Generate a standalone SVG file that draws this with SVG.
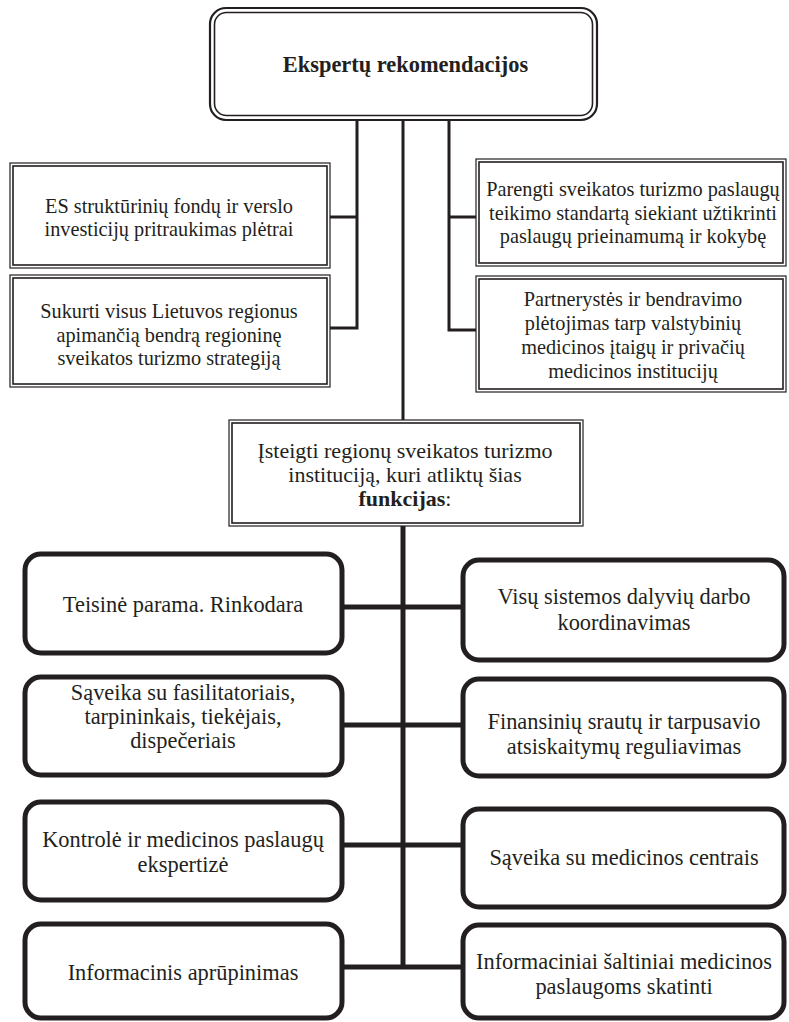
<svg xmlns="http://www.w3.org/2000/svg" width="789" height="1022" viewBox="0 0 789 1022">
  <style>
    text { font-family: "Liberation Serif", "Times New Roman", serif; font-size: 20.3px; fill: #231f20; text-anchor: middle; }
    .title { font-weight: bold; font-size: 22.4px; }
    .mid { font-size: 22px; }
    .fn { font-size: 22.4px; }
    .b { font-weight: bold; }
    .outer { fill: #fff; stroke: #231f20; stroke-width: 1.2; }
    .inner { fill: none; stroke: #231f20; stroke-width: 1.6; }
    .round { fill: #fff; stroke: #231f20; stroke-width: 5; }
    .thin { stroke: #231f20; stroke-width: 3; fill: none; }
    .thick { stroke: #231f20; stroke-width: 5; fill: none; }
  </style>

  <!-- connectors -->
  <g id="connectors">
    <line class="thin" x1="403" y1="118" x2="403" y2="421"/>
    <polyline class="thin" points="357,118 357,328 330,328"/>
    <line class="thin" x1="357" y1="217" x2="330" y2="217"/>
    <polyline class="thin" points="449,118 449,330 476,330"/>
    <line class="thin" x1="449" y1="217" x2="476" y2="217"/>
    <line class="thick" x1="403" y1="525" x2="403" y2="969"/>
    <line class="thick" x1="342" y1="607" x2="462" y2="607"/>
    <line class="thick" x1="342" y1="725" x2="462" y2="725"/>
    <line class="thick" x1="342" y1="845" x2="462" y2="845"/>
    <line class="thick" x1="342" y1="967" x2="462" y2="967"/>
  </g>

  <!-- header -->
  <g id="n-top">
    <rect x="210" y="8" width="387" height="112" rx="16" fill="#fff" stroke="#231f20" stroke-width="2.2"/>
    <rect x="214.5" y="12.5" width="378" height="103" rx="12" fill="none" stroke="#231f20" stroke-width="1.6"/>
    <text class="title" x="405.5" y="72">Ekspertų rekomendacijos</text>
  </g>

  <!-- upper left -->
  <g id="n-es">
    <rect class="outer" x="10" y="163" width="320" height="105"/>
    <rect class="inner" x="13" y="166" width="314" height="99"/>
    <text x="169" y="213">ES struktūrinių fondų ir verslo</text>
    <text x="169" y="236">investicijų pritraukimas plėtrai</text>
  </g>
  <g id="n-strategija">
    <rect class="outer" x="10" y="275" width="320" height="112"/>
    <rect class="inner" x="13" y="278" width="314" height="106"/>
    <text x="169" y="318">Sukurti visus Lietuvos regionus</text>
    <text x="169" y="342">apimančią bendrą regioninę</text>
    <text x="169" y="365">sveikatos turizmo strategiją</text>
  </g>

  <!-- upper right -->
  <g id="n-standartas">
    <rect class="outer" x="476" y="159" width="310" height="107"/>
    <rect class="inner" x="479" y="162" width="304" height="101"/>
    <text x="633" y="196">Parengti sveikatos turizmo paslaugų</text>
    <text x="633" y="220">teikimo standartą siekiant užtikrinti</text>
    <text x="633" y="243">paslaugų prieinamumą ir kokybę</text>
  </g>
  <g id="n-partnerystes">
    <rect class="outer" x="476" y="276" width="310" height="116"/>
    <rect class="inner" x="479" y="279" width="304" height="110"/>
    <text x="633" y="306">Partnerystės ir bendravimo</text>
    <text x="633" y="330">plėtojimas tarp valstybinių</text>
    <text x="633" y="354">medicinos įtaigų ir privačių</text>
    <text x="633" y="378">medicinos institucijų</text>
  </g>

  <!-- central institution -->
  <g id="n-institucija">
    <rect class="outer" x="229" y="420" width="354" height="106"/>
    <rect class="inner" x="232" y="423" width="348" height="100"/>
    <text class="mid" x="405" y="458">Įsteigti regionų sveikatos turizmo</text>
    <text class="mid" x="405" y="482">instituciją, kuri atliktų šias</text>
    <text class="mid" x="405" y="506"><tspan class="b">funkcijas</tspan>:</text>
  </g>

  <!-- functions, left column -->
  <g id="n-teisine">
    <rect class="round" x="25" y="554" width="317" height="99" rx="16"/>
    <text class="fn" x="183" y="612">Teisinė parama. Rinkodara</text>
  </g>
  <g id="n-saveika-fas">
    <rect class="round" x="25" y="677" width="317" height="98" rx="16"/>
    <text class="fn" x="183" y="700">Sąveika su fasilitatoriais,</text>
    <text class="fn" x="183" y="724">tarpininkais, tiekėjais,</text>
    <text class="fn" x="183" y="748">dispečeriais</text>
  </g>
  <g id="n-kontrole">
    <rect class="round" x="25" y="802" width="317" height="98" rx="16"/>
    <text class="fn" x="183" y="847">Kontrolė ir medicinos paslaugų</text>
    <text class="fn" x="183" y="872">ekspertizė</text>
  </g>
  <g id="n-informacinis">
    <rect class="round" x="25" y="924" width="317" height="94" rx="16"/>
    <text class="fn" x="183" y="980">Informacinis aprūpinimas</text>
  </g>

  <!-- functions, right column -->
  <g id="n-koordinavimas">
    <rect class="round" x="463" y="560" width="321" height="100" rx="16"/>
    <text class="fn" x="624" y="604">Visų sistemos dalyvių darbo</text>
    <text class="fn" x="624" y="630">koordinavimas</text>
  </g>
  <g id="n-finansai">
    <rect class="round" x="463" y="679" width="321" height="97" rx="16"/>
    <text class="fn" x="624" y="729">Finansinių srautų ir tarpusavio</text>
    <text class="fn" x="624" y="754">atsiskaitymų reguliavimas</text>
  </g>
  <g id="n-centrai">
    <rect class="round" x="463" y="809" width="321" height="98" rx="16"/>
    <text class="fn" x="624" y="865">Sąveika su medicinos centrais</text>
  </g>
  <g id="n-saltiniai">
    <rect class="round" x="463" y="925" width="321" height="93" rx="16"/>
    <text class="fn" x="624" y="969">Informaciniai šaltiniai medicinos</text>
    <text class="fn" x="624" y="994">paslaugoms skatinti</text>
  </g>
</svg>
